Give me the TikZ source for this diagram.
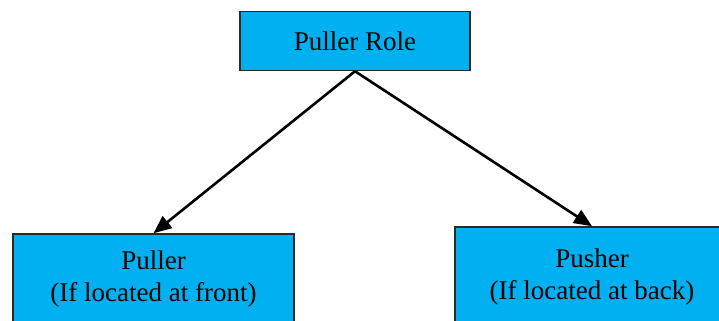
\documentclass[tikz,border=0pt]{standalone}
\usepackage{fontspec}
\setmainfont{Liberation Serif}
\usetikzlibrary{arrows.meta}
\definecolor{boxblue}{HTML}{00B0F0}
\definecolor{boxline}{HTML}{2A2A2A}
\tikzset{
  rolebox/.style={draw=boxline, line width=1.5bp, fill=boxblue, align=center,
    font=\fontsize{27bp}{32bp}\selectfont, inner sep=0pt},
  conn/.style={line width=2.6bp, -{Triangle[length=18bp,width=15bp]}}
}
\begin{document}
\begin{tikzpicture}[x=1bp,y=-1bp]
\useasboundingbox (0,0) rectangle (719,320);
\clip (0,0) rectangle (719,320);
\node[rolebox, minimum width=230bp, minimum height=59bp] (top) at (355,41) {Puller Role};
\node[rolebox, minimum width=281bp, minimum height=90bp] (left) at (153.5,279) {Puller\\(If located at front)};
\node[rolebox, minimum width=274bp, minimum height=99bp] (right) at (592,276.5) {Pusher\\(If located at back)};
\draw[conn] (top.south) -- (left.north);
\draw[conn] (top.south) -- (right.north);
\end{tikzpicture}
\end{document}
